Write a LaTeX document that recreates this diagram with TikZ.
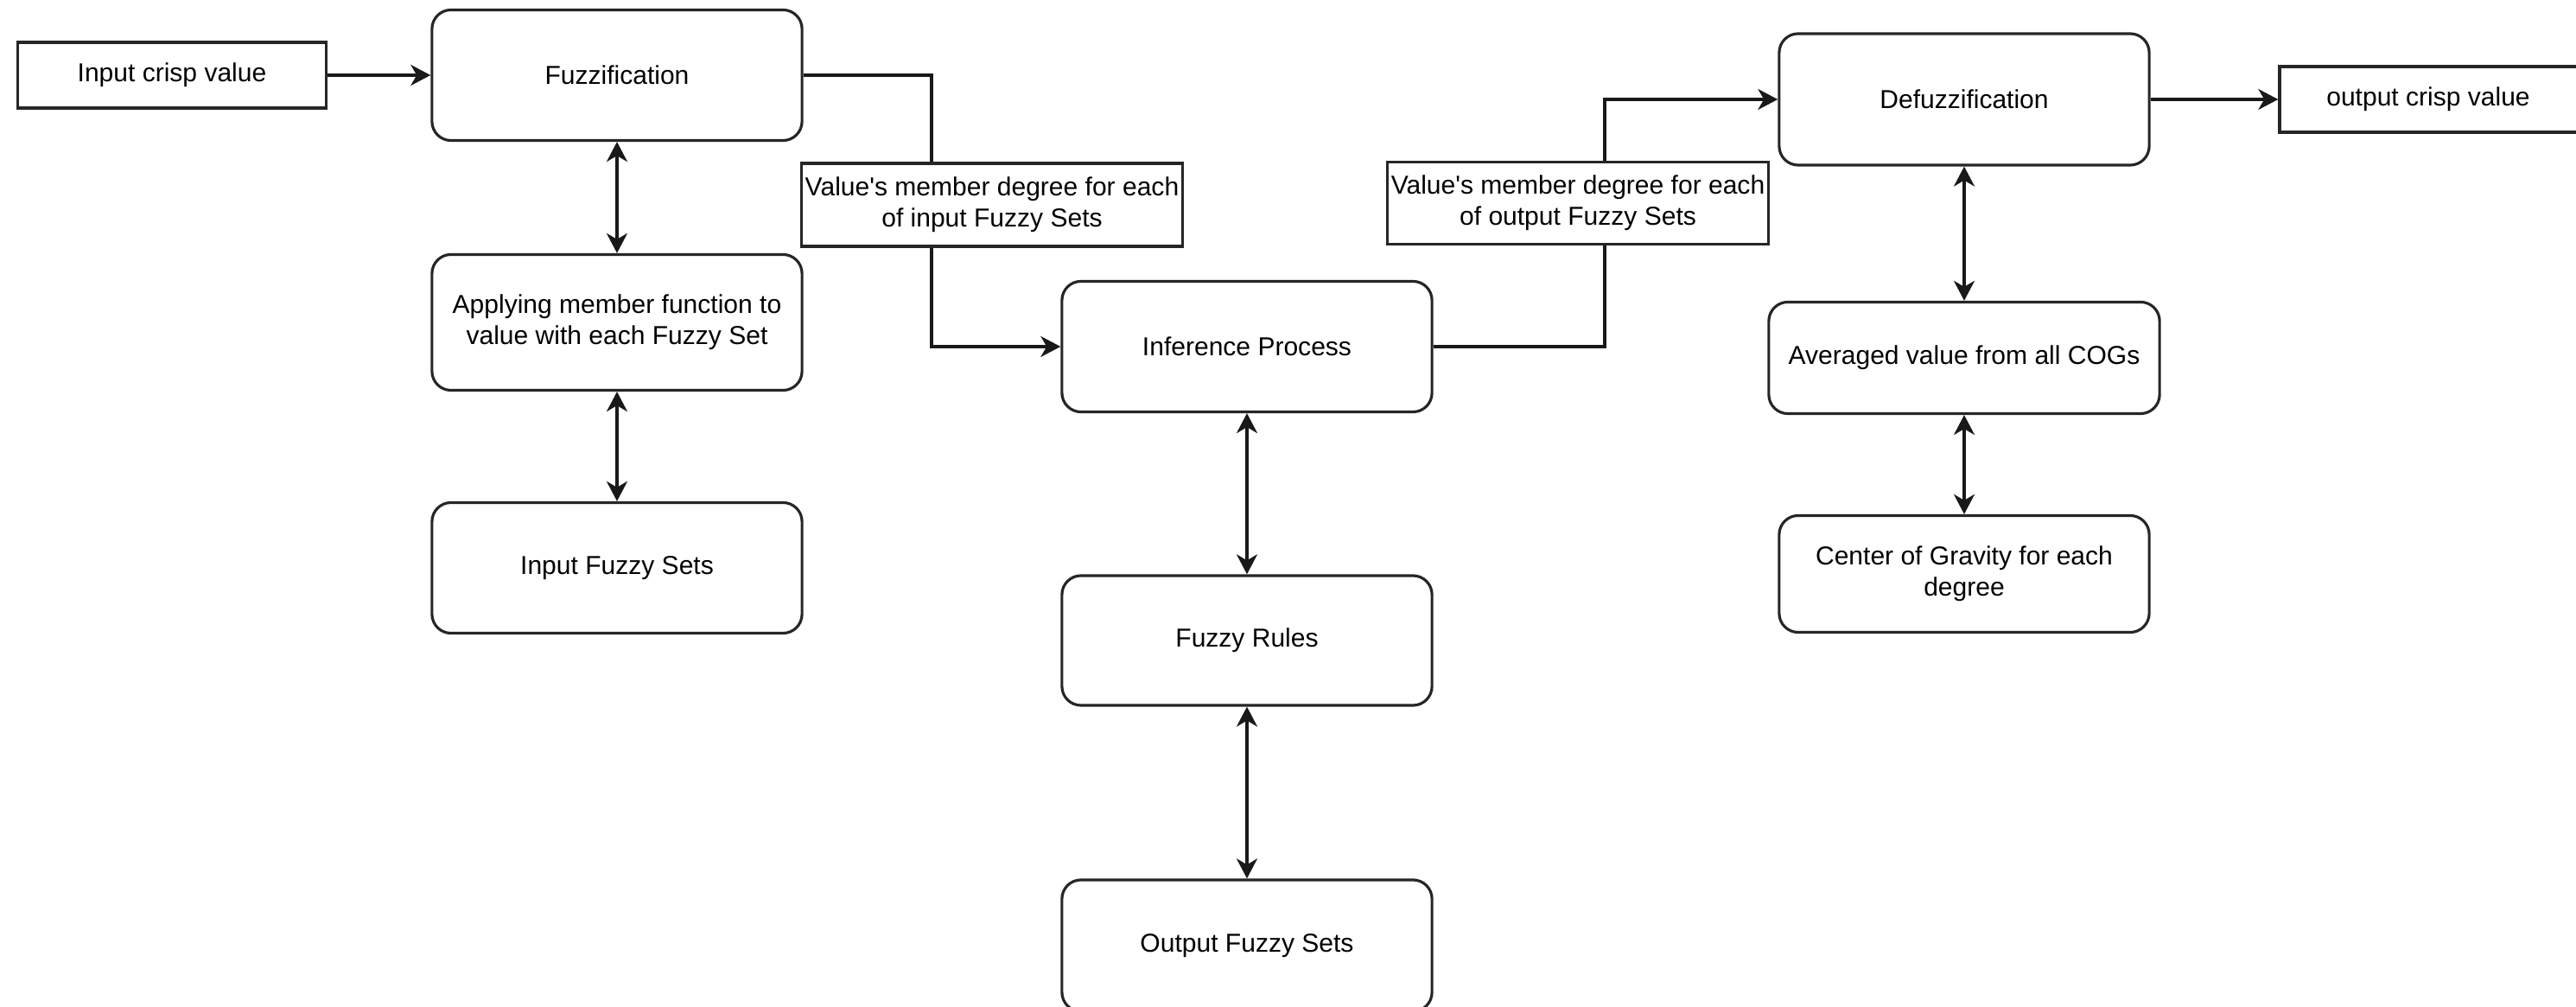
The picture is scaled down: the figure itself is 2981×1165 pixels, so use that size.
\documentclass[tikz,border=0pt]{standalone}
\usepackage{fontspec}
\setmainfont{Liberation Sans}[Ligatures=TeXOff]
\usetikzlibrary{arrows.meta,calc}
\begin{document}
\begin{tikzpicture}[x=0.01cm,y=-0.01cm,
  txt/.style={font=\fontsize{8.54}{10.25}\selectfont, text=black},
  rbox/.style={txt, draw=black!85, rounded corners=0.22cm, line width=0.9pt, minimum width=4.28cm, minimum height=1.51cm, align=center, inner sep=0pt},
  sbox/.style={txt, draw=black!85, rectangle, line width=0.9pt, align=center, inner sep=0pt},
  plain/.style={line width=0.9pt, draw=black!90},
  tip/.tip={Stealth[length=0.23cm,width=0.24cm,inset=0.07cm]},
  link/.style={plain, -tip},
  both/.style={plain, tip-tip}]
\useasboundingbox (0,0) rectangle (2981,1165);

\node[sbox, minimum width=3.56cm, minimum height=0.76cm] (inp) at (199,87) {Input crisp value};
\node[rbox] (fuzz) at (714,87) {Fuzzification};
\node[rbox, minimum height=1.57cm] (apply) at (714,373) {Applying member function to\\value with each Fuzzy Set};
\node[rbox] (ifs) at (714,657) {Input Fuzzy Sets};
\node[sbox, minimum width=4.4cm, minimum height=0.96cm] (lab1) at (1148,237) {Value's member degree for each\\of input Fuzzy Sets};
\node[rbox] (inf) at (1443,401) {Inference Process};
\node[rbox, minimum height=1.50cm] (rules) at (1443,741) {Fuzzy Rules};
\node[rbox, minimum height=1.52cm] (ofs) at (1443,1094) {Output Fuzzy Sets};
\node[sbox, minimum width=4.4cm, minimum height=0.95cm] (lab2) at (1826,235) {Value's member degree for each\\of output Fuzzy Sets};
\node[rbox, minimum height=1.52cm] (defuzz) at (2273,115) {Defuzzification};
\node[sbox, minimum width=3.44cm, minimum height=0.76cm] (outp) at (2810,115) {output crisp value};
\node[rbox, minimum width=4.52cm, minimum height=1.29cm] (avg) at (2273,414) {Averaged value from all COGs};
\node[rbox, minimum height=1.35cm] (cog) at (2273,664) {Center of Gravity for each\\degree};

\coordinate (k1) at (1078,0);
\coordinate (k2) at (1857,0);

\draw[link] (inp.east) -- (fuzz.west);
\draw[plain] (fuzz.east) -| (lab1.north -| k1);
\draw[link] (lab1.south -| k1) |- (inf.west);
\draw[plain] (inf.east) -| (lab2.south -| k2);
\draw[link] (lab2.north -| k2) |- (defuzz.west);
\draw[link] (defuzz.east) -- (outp.west);

\draw[both] (fuzz.south) -- (apply.north);
\draw[both] (apply.south) -- (ifs.north);
\draw[both] (inf.south) -- (rules.north);
\draw[both] (rules.south) -- (ofs.north);
\draw[both] (defuzz.south) -- (avg.north);
\draw[both] (avg.south) -- (cog.north);
\end{tikzpicture}
\end{document}
